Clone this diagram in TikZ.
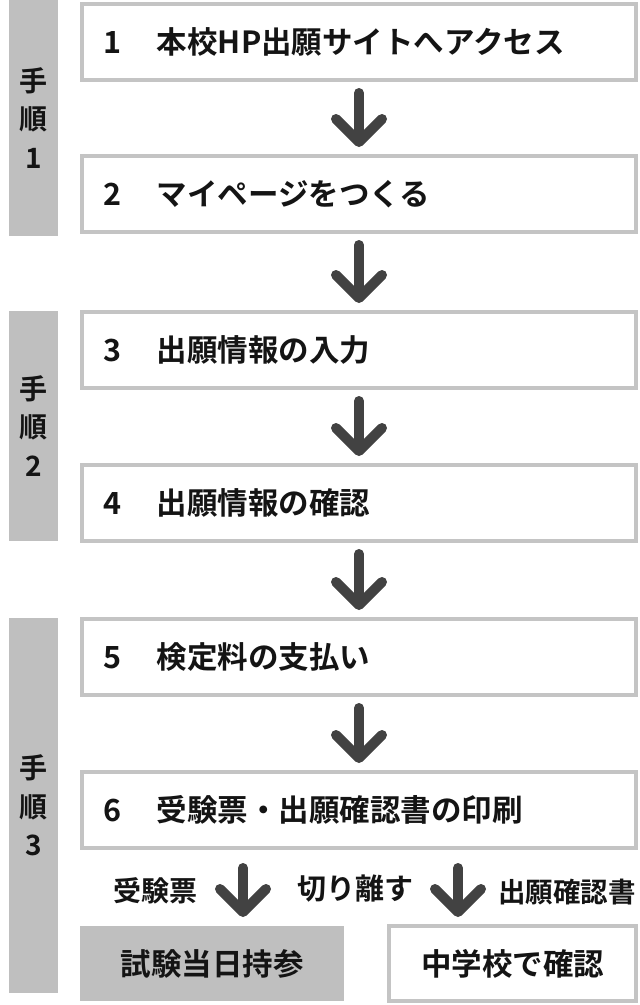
\documentclass[tikz,border=0pt]{standalone}
\usepackage{fontspec}
\setmainfont{Noto Sans CJK JP}[BoldFont=* Bold]
\usetikzlibrary{arrows.meta}
\definecolor{sidegray}{HTML}{BFBFBF}
\definecolor{framegray}{HTML}{C4C4C4}
\definecolor{arrowgray}{HTML}{424242}
\definecolor{inkblack}{HTML}{141414}
\begin{document}
\begin{tikzpicture}[x=1pt,y=-1pt,
 stepbox/.style={draw=framegray, line width=4pt, fill=white, minimum width=554pt, minimum height=76pt, text width=512pt, inner xsep=21pt, inner ysep=0pt, align=left, font=\fontsize{30.5}{34}\selectfont\bfseries, text=inkblack},
 endbox/.style={line width=4pt, minimum height=75pt, inner sep=0pt, align=center, font=\fontsize{30.5}{34}\selectfont\bfseries, text=inkblack},
 side/.style={fill=sidegray, minimum width=49pt, inner sep=0pt, align=center, font=\fontsize{28}{38.5}\selectfont\bfseries, text=inkblack},
 flow/.style={draw=arrowgray, line width=10pt, line cap=round, line join=round, -{Straight Barb[length=23pt,width=46pt,round]}},
 lab/.style={font=\fontsize{27.5}{30}\selectfont\bfseries, text=inkblack, inner sep=0pt},
]
\useasboundingbox (0,0) rectangle (640,1005);
\fill[white] (0,0) rectangle (640,1005);

% sidebars
\node[side, minimum height=236pt] (s1) at (33.5,118) {手\\順\\1};
\node[side, minimum height=230pt] (s2) at (33.5,426) {手\\順\\2};
\node[side, minimum height=375pt] (s3) at (33.5,805.5) {手\\順\\3};

% step boxes
\node[stepbox] (b1) at (359,42) {\makebox[54pt][l]{1}本校HP出願サイトへアクセス};
\node[stepbox] (b2) at (359,194) {\makebox[54pt][l]{2}マイページをつくる};
\node[stepbox] (b3) at (359,350) {\makebox[54pt][l]{3}出願情報の入力};
\node[stepbox] (b4) at (359,503) {\makebox[54pt][l]{4}出願情報の確認};
\node[stepbox] (b5) at (359,657) {\makebox[54pt][l]{5}検定料の支払い};
\node[stepbox] (b6) at (359,810) {\makebox[54pt][l]{6}受験票・出願確認書の印刷};

% end boxes
\node[endbox, fill=sidegray, minimum width=264pt] (b7) at (212,963.5) {試験当日持参};
\node[endbox, draw=framegray, fill=white, minimum width=247pt] (b8) at (512.5,963.5) {中学校で確認};

% arrows
\foreach \a/\b in {b1/b2,b2/b3,b3/b4,b4/b5,b5/b6}
  \draw[flow, shorten <=11pt, shorten >=7pt] (\a.south) -- (\b.north);

\coordinate (la) at (243,0);
\coordinate (ra) at (458,0);
\draw[flow, shorten <=18pt, shorten >=7pt] (b6.south -| la) -- (b7.north -| la);
\draw[flow, shorten <=18pt, shorten >=7pt] (b6.south -| ra) -- (b8.north -| ra);

% labels
\node[lab, font=\fontsize{28}{30}\selectfont\bfseries] (l1) at (155,891) {受験票};
\node[lab, font=\fontsize{29}{30}\selectfont\bfseries] (l2) at (355,889) {切り離す};
\node[lab] (l3) at (567,892) {出願確認書};
\end{tikzpicture}
\end{document}
